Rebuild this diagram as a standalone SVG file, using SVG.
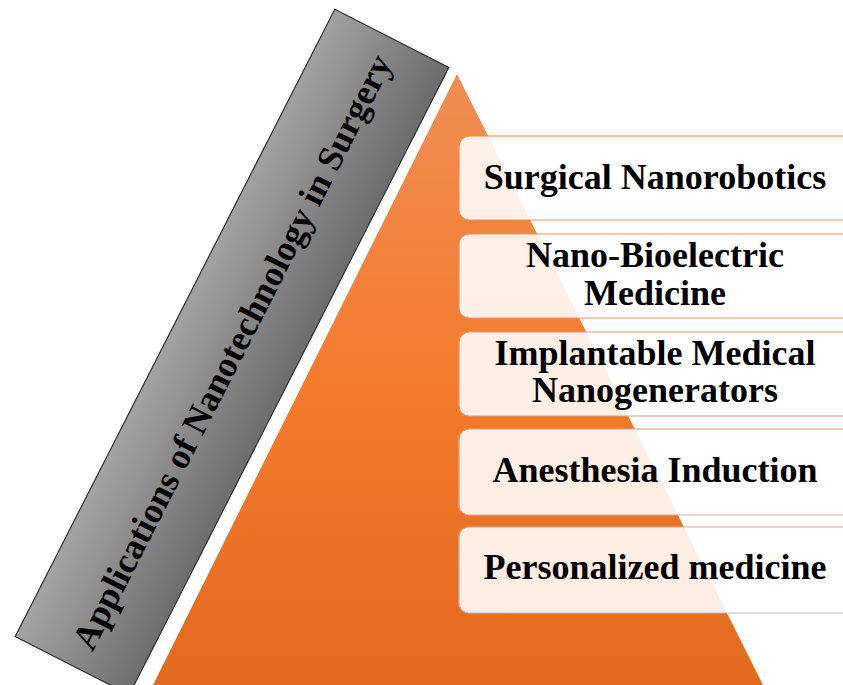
<svg xmlns="http://www.w3.org/2000/svg" width="843" height="685" viewBox="0 0 843 685">
  <defs>
    <linearGradient id="triGrad" gradientUnits="userSpaceOnUse" x1="0" y1="74" x2="0" y2="685">
      <stop offset="0" stop-color="#F08D52"/>
      <stop offset="0.5" stop-color="#F47B2C"/>
      <stop offset="1" stop-color="#E3691C"/>
    </linearGradient>
    <linearGradient id="grayGrad" x1="0" y1="0" x2="0.05" y2="1">
      <stop offset="0" stop-color="#A4A4A4"/>
      <stop offset="1" stop-color="#6E6E6E"/>
    </linearGradient>
    <linearGradient id="boxStroke" gradientUnits="userSpaceOnUse" x1="0" y1="136" x2="0" y2="613">
      <stop offset="0" stop-color="#F3874A"/>
      <stop offset="0.6" stop-color="#D99A84"/>
      <stop offset="1" stop-color="#BDBDBD"/>
    </linearGradient>
  </defs>
  <style>
    .box { fill: #FFFFFF; fill-opacity: 0.88; stroke: url(#boxStroke); stroke-width: 1.2; }
    .lbl { font-family: "Liberation Serif", "Times New Roman", serif; font-weight: bold; font-size: 36px; fill: #000000; text-anchor: middle; }
  </style>
  <rect width="843" height="685" fill="#FFFFFF"/>

  <g id="pyramid">
    <polygon points="457,74 153,685 763,685" fill="url(#triGrad)"/>
  </g>

  <g id="title" transform="translate(232,352) rotate(-63)">
    <rect x="-352" y="-64" width="704" height="128" fill="url(#grayGrad)" stroke="#2E2E2E" stroke-width="1.2"/>
    <text class="lbl" x="0" y="12">Applications of Nanotechnology in Surgery</text>
  </g>

  <g id="connectors"></g>

  <g id="node1">
    <rect class="box" x="459" y="136" width="400" height="84" rx="10"/>
    <text class="lbl" x="655" y="189">Surgical Nanorobotics</text>
  </g>
  <g id="node2">
    <rect class="box" x="459" y="234" width="400" height="84" rx="10"/>
    <text class="lbl" x="655" y="267">Nano-Bioelectric</text>
    <text class="lbl" x="655" y="305">Medicine</text>
  </g>
  <g id="node3">
    <rect class="box" x="459" y="332" width="400" height="84" rx="10"/>
    <text class="lbl" x="655" y="365">Implantable Medical</text>
    <text class="lbl" x="655" y="402">Nanogenerators</text>
  </g>
  <g id="node4">
    <rect class="box" x="459" y="429" width="400" height="86" rx="10"/>
    <text class="lbl" x="655" y="482">Anesthesia Induction</text>
  </g>
  <g id="node5">
    <rect class="box" x="459" y="527" width="400" height="86" rx="10"/>
    <text class="lbl" x="655" y="579">Personalized medicine</text>
  </g>
</svg>
